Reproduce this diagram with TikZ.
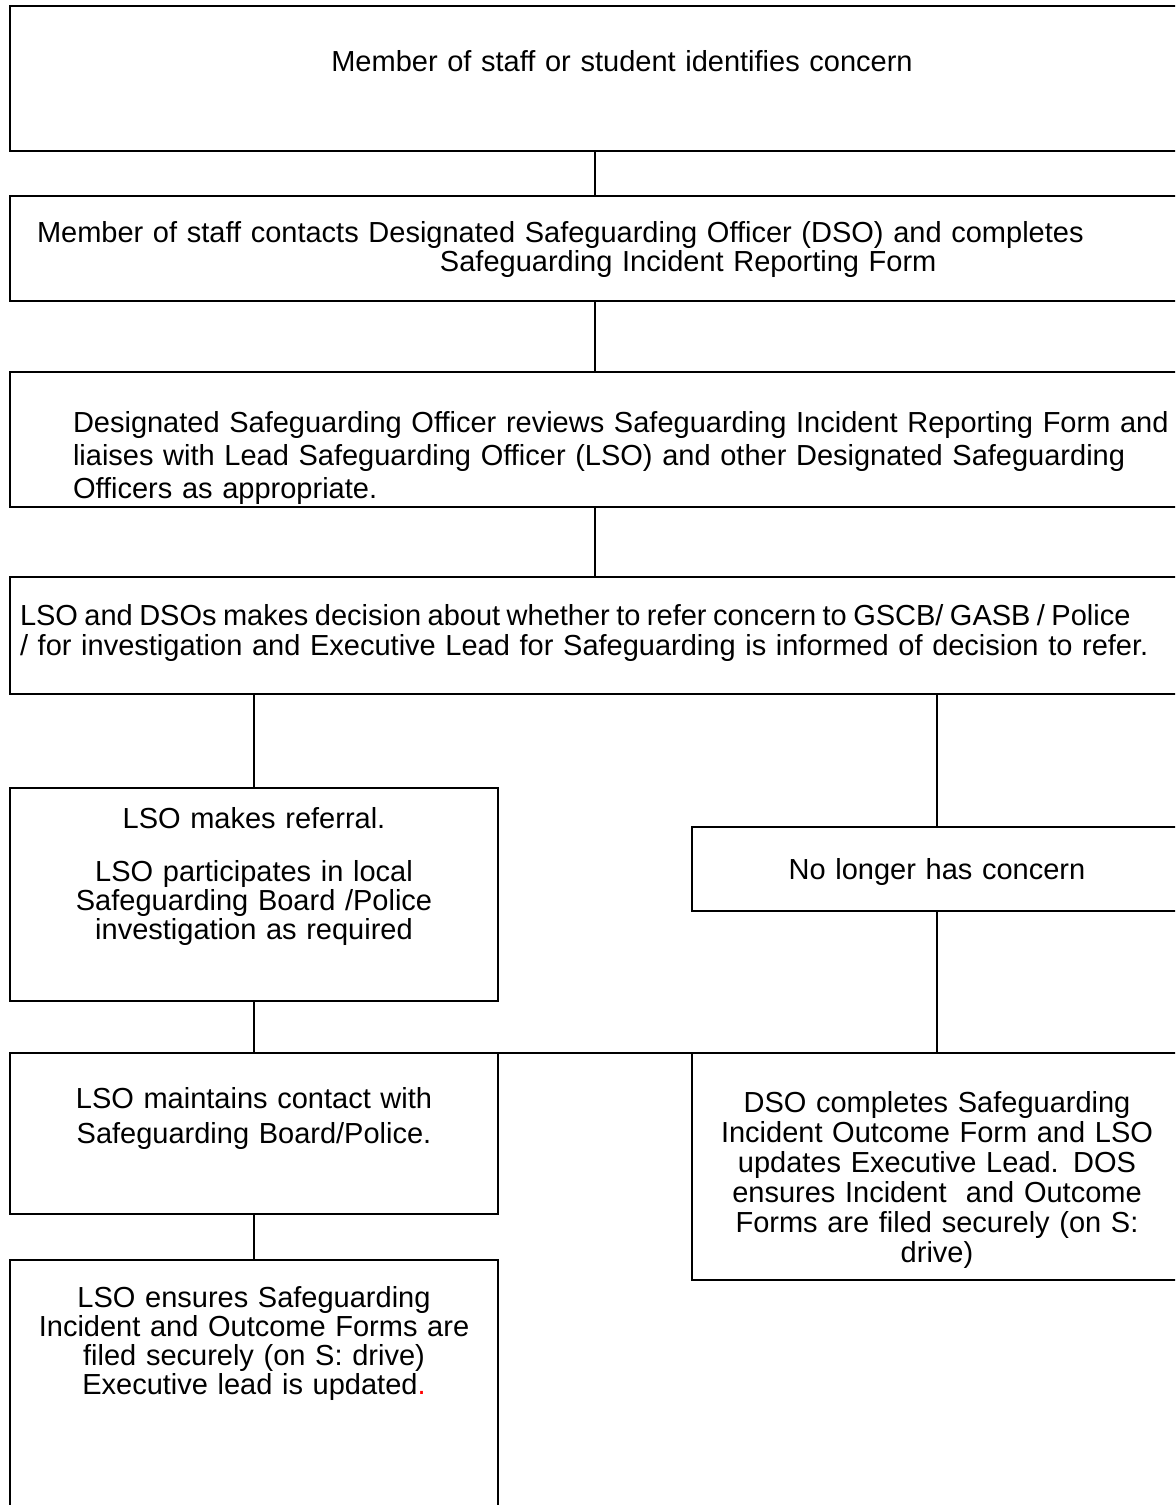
\documentclass[tikz,border=0pt]{standalone}
\usepackage{fontspec}
\setmainfont{Liberation Sans}

\begin{document}
\begin{tikzpicture}[x=0.5pt, y=-0.5pt,
      box/.style={draw, line width=1pt, anchor=north west, outer sep=0pt, inner ysep=0pt, inner xsep=5pt, font=\fontsize{14.5pt}{14.5pt}\selectfont},
      lines/.style={font=\fontsize{14.5pt}{#1}\selectfont},
      wide/.style={box, minimum width=585pt},
      half/.style={box, minimum width=244pt, text width=234pt, align=center},
      link/.style={line width=0.75pt}]
    \useasboundingbox (0,0) rectangle (1175,1505);
    \clip (0,0) rectangle (1175,1505);
    % main column
    \node[wide, inner xsep=13.5pt, text width=558pt, align=center, text height=32.5pt, text depth=40pt] (concern) at (10,6)
      {\hspace*{27pt}Member of staff or student identifies concern};
    \node[wide, inner xsep=13.5pt, text width=558pt, align=left, text height=23pt, text depth=29.5pt] (contact) at (10,196)
      {Member of staff contacts Designated Safeguarding Officer (DSO) and completes\\
       \hspace*{201.5pt}Safeguarding Incident Reporting Form};
    \node[wide, lines=16.5pt, inner xsep=31.5pt, text width=522pt, align=left, text height=30pt, text depth=37.5pt] (review) at (10,372)
      {\mbox{Designated Safeguarding Officer reviews Safeguarding Incident Reporting Form and}\\
       \mbox{liaises with Lead Safeguarding Officer (LSO) and other Designated Safeguarding}\\
       Officers as appropriate.};
    \node[wide, lines=15pt, inner xsep=5pt, text width=575pt, align=left, text height=24pt, text depth=34.5pt] (decide) at (10,577)
      {\mbox{\spaceskip=0.8\fontdimen2\font LSO and DSOs makes decision about whether to refer concern to GSCB/ GASB / Police}\\
       / for investigation and Executive Lead for Safeguarding is informed of decision to refer.};
    % referral branch
    \node[half, lines=13.5pt, text height=20pt, text depth=86.5pt] (referral) at (10,788)
      {LSO makes referral.\\[13pt]
       LSO participates in local\\ Safeguarding Board /Police\\ investigation as required};
    \node[half, lines=17.5pt, text height=27.5pt, text depth=53pt] (liaison) at (10,1053)
      {LSO maintains contact with\\ Safeguarding Board/Police.};
    \node[half, text height=23.5pt, text depth=126.5pt] (filing) at (10,1260)
      {LSO ensures Safeguarding\\ Incident and Outcome Forms are\\ filed securely (on S: drive)\\
       Executive lead is updated\textcolor{red}{.}};
    % no referral branch
    \node[half, minimum width=245pt, text height=26pt, text depth=16pt] (noconcern) at (692,827)
      {No longer has concern};
    \node[half, minimum width=245pt, lines=15pt, text height=29.5pt, text depth=84pt] (outcome) at (692,1053)
      {DSO completes Safeguarding\\ Incident Outcome Form and LSO\\ updates Executive Lead. DOS\\
       ensures Incident\ \ and Outcome\\ Forms are filed securely (on S:\\ drive)};
    % connectors
    \draw[link] (concern) -- (contact);
    \draw[link] (contact) -- (review);
    \draw[link] (review) -- (decide);
    \draw[link] (decide.south -| referral.north) -- (referral.north);
    \draw[link] (decide.south -| noconcern.north) -- (noconcern.north);
    \draw[link] (referral) -- (liaison);
    \draw[link] (liaison) -- (filing);
    \draw[link] (noconcern) -- (outcome);
    \draw[line width=1pt] (liaison.north east) -- (outcome.north west);
  \end{tikzpicture}
\end{document}
